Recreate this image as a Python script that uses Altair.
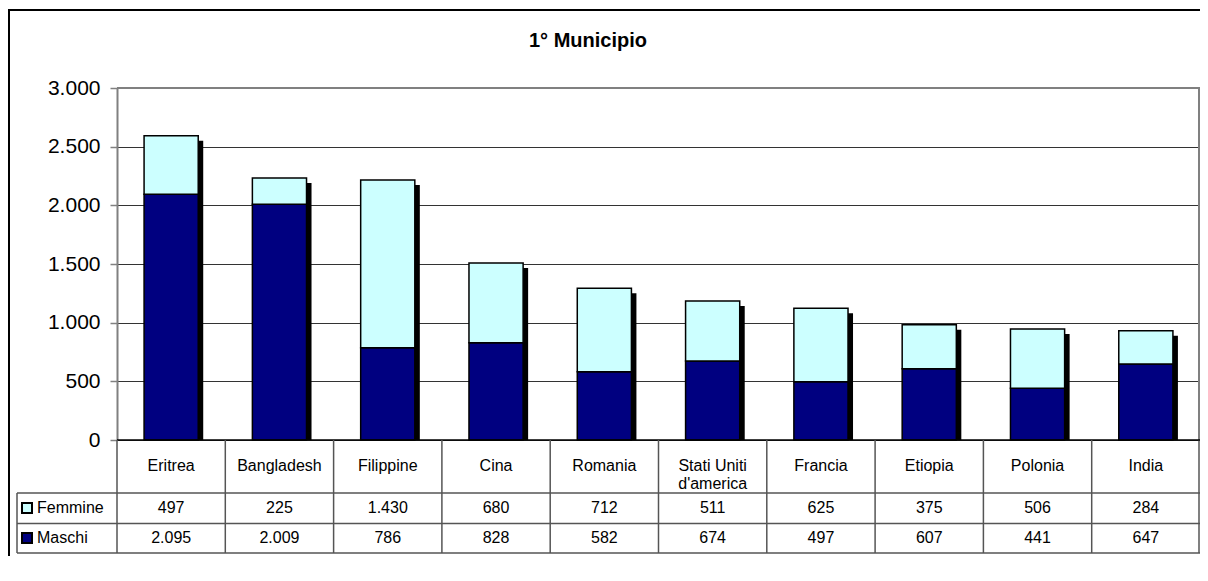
import altair as alt
import pandas as pd

# ---- data ----
countries = ["Eritrea", "Bangladesh", "Filippine", "Cina", "Romania",
             "Stati Uniti d'america", "Francia", "Etiopia", "Polonia", "India"]
country_labels = ["Eritrea", "Bangladesh", "Filippine", "Cina", "Romania",
                  "Stati Uniti\nd'america", "Francia", "Etiopia", "Polonia", "India"]
femmine = [497, 225, 1430, 680, 712, 511, 625, 375, 506, 284]
maschi = [2095, 2009, 786, 828, 582, 674, 497, 607, 441, 647]
series = ["Maschi", "Femmine"]
colors = ["#000080", "#CCFFFF"]
y_ticks = [0, 500, 1000, 1500, 2000, 2500, 3000]
title_text = "1° Municipio"


def fmt(v):
    return f"{v:,}".replace(",", ".")


rows = []
for c, m, f in zip(countries, maschi, femmine):
    rows.append({"country": c, "sex": "Maschi", "value": m, "ord": 0})
    rows.append({"country": c, "sex": "Femmine", "value": f, "ord": 1})
long = pd.DataFrame(rows)

tot = pd.DataFrame({
    "country": countries,
    "total": [m + f for m, f in zip(maschi, femmine)],
    "label": country_labels,
    "fem_txt": [fmt(v) for v in femmine],
    "mas_txt": [fmt(v) for v in maschi],
})
legend_df = pd.DataFrame({"sex": series})
one = pd.DataFrame({"k": [0]})

W, H = 1083, 352
FONT = "Liberation Sans"
LINE = "#555555"

xscale = alt.Scale(paddingInner=0, paddingOuter=0)
xenc = alt.X("country:N", sort=countries, scale=xscale, axis=None)
yscale = alt.Scale(domain=[0, 3000], nice=False, zero=True)
yaxis = alt.Axis(values=y_ticks, title=None,
                 labelExpr="replace(format(datum.value, ','), ',', '.')",
                 labelFont=FONT, labelFontSize=21, labelColor="black",
                 labelPadding=10, tickSize=7, tickColor="#808080", tickWidth=1.5,
                 domainColor="#808080", domainWidth=2,
                 grid=True, gridColor="#333333", gridWidth=1)
colscale = alt.Scale(domain=series, range=colors)

shadow = alt.Chart(tot).mark_bar(
    color="black", width=alt.RelativeBandSize(0.5), xOffset=5, yOffset=5, y2Offset=-5
).encode(x=xenc, y=alt.Y("total:Q", stack=None, scale=yscale, axis=yaxis))

bars = alt.Chart(long).mark_bar(
    width=alt.RelativeBandSize(0.5), stroke="black", strokeWidth=1.5
).encode(
    x=xenc,
    y=alt.Y("value:Q", stack="zero", scale=yscale, axis=yaxis),
    color=alt.Color("sex:N", scale=colscale, legend=None),
    order=alt.Order("ord:Q", sort="ascending"),
)

top_border = alt.Chart(one).mark_rule(color="#808080", strokeWidth=2).encode(y=alt.datum(3000))
baseline = alt.Chart(one).mark_rule(color="black", strokeWidth=1.5).encode(y=alt.datum(0))
right_border = alt.Chart(one).mark_rule(color="#808080", strokeWidth=2).encode(
    x=alt.value(W - 1), y=alt.value(0), y2=alt.value(465))

# table
vlines = alt.Chart(tot).mark_rule(color=LINE, strokeWidth=1.5).encode(
    x=alt.X("country:N", sort=countries, scale=xscale, axis=None, bandPosition=0),
    y=alt.value(H), y2=alt.value(465))
leg_left = alt.Chart(one).mark_rule(color=LINE, strokeWidth=1.5).encode(
    x=alt.value(-100), y=alt.value(405), y2=alt.value(465))
hl1 = alt.Chart(one).mark_rule(color=LINE, strokeWidth=1.5).encode(
    x=alt.value(-100), x2=alt.value(W), y=alt.value(405))
hl2 = alt.Chart(one).mark_rule(color=LINE, strokeWidth=1.5).encode(
    x=alt.value(-100), x2=alt.value(W), y=alt.value(435.5))
hl3 = alt.Chart(one).mark_rule(color=LINE, strokeWidth=1.5).encode(
    x=alt.value(-100), x2=alt.value(W), y=alt.value(465))

txt = dict(font=FONT, fontSize=16, color="black", align="center", baseline="middle")
cat_text = alt.Chart(tot).mark_text(lineBreak="\n", lineHeight=18, **txt).encode(
    x=xenc, y=alt.value(378), text="label:N")
fem_text = alt.Chart(tot).mark_text(**txt).encode(x=xenc, y=alt.value(420), text="fem_txt:N")
mas_text = alt.Chart(tot).mark_text(**txt).encode(x=xenc, y=alt.value(450), text="mas_txt:N")

leg_f_sq = alt.Chart(legend_df).transform_filter(alt.datum.sex == "Femmine").mark_square(
    size=100, stroke="black", strokeWidth=2, opacity=1).encode(
    x=alt.value(-90), y=alt.value(420), color=alt.Color("sex:N", scale=colscale, legend=None))
leg_m_sq = alt.Chart(legend_df).transform_filter(alt.datum.sex == "Maschi").mark_square(
    size=100, stroke="black", strokeWidth=2, opacity=1).encode(
    x=alt.value(-90), y=alt.value(450), color=alt.Color("sex:N", scale=colscale, legend=None))
leg_f_tx = alt.Chart(legend_df).transform_filter(alt.datum.sex == "Femmine").mark_text(
    font=FONT, fontSize=16, color="black", align="left", baseline="middle").encode(
    x=alt.value(-80), y=alt.value(420), text="sex:N")
leg_m_tx = alt.Chart(legend_df).transform_filter(alt.datum.sex == "Maschi").mark_text(
    font=FONT, fontSize=16, color="black", align="left", baseline="middle").encode(
    x=alt.value(-80), y=alt.value(450), text="sex:N")

title = alt.Chart(one).mark_text(
    font=FONT, fontSize=20, fontWeight="bold", color="black", align="center",
    baseline="alphabetic").encode(x=alt.value(471), y=alt.value(-41), text=alt.value(title_text))

frame_top = alt.Chart(one).mark_rule(color="black", strokeWidth=2).encode(
    x=alt.value(-108), x2=alt.value(W + 20), y=alt.value(-78))
frame_left = alt.Chart(one).mark_rule(color="black", strokeWidth=2).encode(
    x=alt.value(-108), y=alt.value(-79), y2=alt.value(H + 200))

chart = alt.layer(
    shadow, bars, top_border, right_border, baseline,
    vlines, leg_left, hl1, hl2, hl3,
    cat_text, fem_text, mas_text,
    leg_f_sq, leg_m_sq, leg_f_tx, leg_m_tx,
    title, frame_top, frame_left,
).properties(
    width=W, height=H,
    autosize=alt.AutoSizeParams(type="none"),
    padding={"left": 109, "top": 80, "right": 0, "bottom": 116},
).configure_view(stroke="transparent").configure(background="white")

chart.save("out.html", embed_options={"renderer": "svg", "actions": False})
